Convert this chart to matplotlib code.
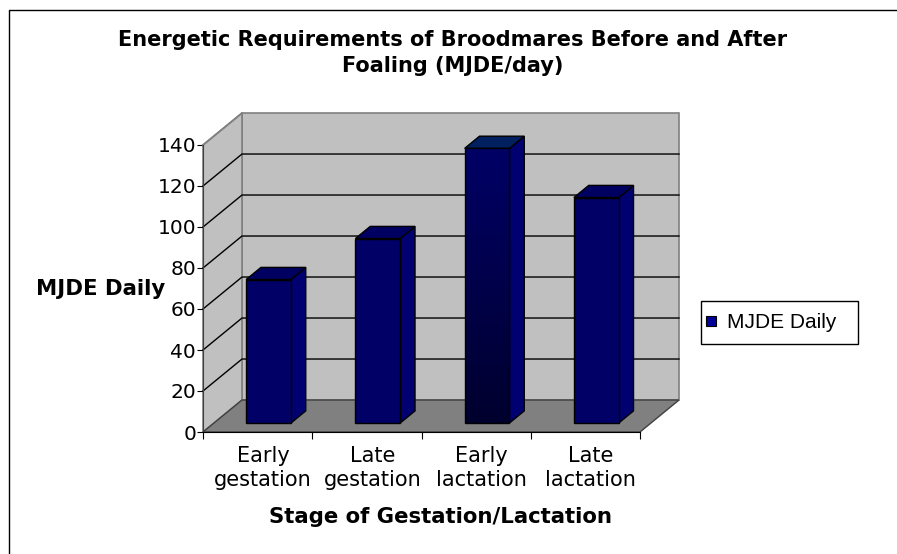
import matplotlib.pyplot as plt
from matplotlib.patches import Polygon, Rectangle
from matplotlib.lines import Line2D
from matplotlib.colors import LinearSegmentedColormap
import numpy as np

stages = ['Early\ngestation', 'Late\ngestation', 'Early\nlactation', 'Late\nlactation']
mjde = [70, 90, 134, 110]
y_ticks = [0, 20, 40, 60, 80, 100, 120, 140]
series_name = 'MJDE Daily'

W, H = 897, 554
fig = plt.figure(figsize=(W / 100, H / 100), dpi=100)
ax = fig.add_axes([203 / W, 1 - 432 / H, 437 / W, 287 / H])
n = len(stages)
ymax = y_ticks[-1]

# fake 3d: depth offset of the back wall, in data units
dx, dy = 0.357, 15.6
# bar sits between these depth fractions
f0, f1 = 0.28, 0.66
bw = 0.41

wall = '#c0c0c0'
floor = '#808080'
edge = '#808080'

# back wall, left wall, floor
ax.add_patch(Polygon([(dx, dy), (n + dx, dy), (n + dx, ymax + dy), (dx, ymax + dy)],
                     closed=True, fc=wall, ec=edge, lw=1.2, clip_on=False, zorder=1))
ax.add_patch(Polygon([(0, 0), (dx, dy), (dx, ymax + dy), (0, ymax)],
                     closed=True, fc=wall, ec=edge, lw=1.2, clip_on=False, zorder=1))
for v in y_ticks[1:-1]:
    ax.plot([0, dx, n + dx], [v, v + dy, v + dy], color='black', lw=1, clip_on=False, zorder=2)
ax.plot([0, dx], [ymax, ymax + dy], color=edge, lw=1.2, clip_on=False, zorder=2)
ax.add_patch(Polygon([(0, 0), (n, 0), (n + dx, dy), (dx, dy)],
                     closed=True, fc=floor, ec='#404040', lw=1, clip_on=False, zorder=3))

front = '#000066'
side = '#000070'
top = '#000060'
grad = LinearSegmentedColormap.from_list('g', ['#00002e', '#000066'])

for i, v in enumerate(mjde):
    x0 = i + 0.5 - bw / 2 + f0 * dx
    x1 = x0 + bw
    b = f0 * dy
    ddx = (f1 - f0) * dx
    ddy = (f1 - f0) * dy
    ax.add_patch(Polygon([(x1, b), (x1 + ddx, b + ddy), (x1 + ddx, b + ddy + v), (x1, b + v)],
                         closed=True, fc=side, ec='black', lw=1, clip_on=False, zorder=5))
    ax.add_patch(Polygon([(x0, b + v), (x1, b + v), (x1 + ddx, b + v + ddy), (x0 + ddx, b + v + ddy)],
                         closed=True, fc='#002060' if i == 2 else top, ec='black', lw=1,
                         clip_on=False, zorder=5))
    if i == 2:
        # the third bar is filled with a dark gradient
        g = np.linspace(0, 1, 256).reshape(-1, 1)
        ax.imshow(g, extent=(x0, x1, b, b + v), origin='lower', aspect='auto',
                  cmap=grad, zorder=5.5)
        ax.add_patch(Polygon([(x0, b), (x1, b), (x1, b + v), (x0, b + v)],
                             closed=True, fill=False, ec='black', lw=1, clip_on=False, zorder=6))
    else:
        ax.add_patch(Polygon([(x0, b), (x1, b), (x1, b + v), (x0, b + v)],
                             closed=True, fc=front, ec='black', lw=1, clip_on=False, zorder=6))

ax.set_xlim(0, n)
ax.set_ylim(0, ymax)
ax.patch.set_visible(False)
for s in ['top', 'right']:
    ax.spines[s].set_visible(False)
ax.spines['left'].set_color('#404040')
ax.spines['bottom'].set_color('black')
ax.spines['left'].set_zorder(4)
ax.spines['bottom'].set_zorder(4)

ax.set_yticks(y_ticks)
ax.tick_params(axis='y', length=4, pad=1, labelsize=14.5, colors='black')
ax.set_xticks(range(n + 1))
ax.set_xticklabels([])
ax.set_xticks(np.arange(n) + 0.55, minor=True)
ax.set_xticklabels(stages, minor=True, fontsize=15, linespacing=1.25)
ax.tick_params(axis='x', which='major', length=5)
ax.tick_params(axis='x', which='minor', length=0, pad=10)

fig.text(453 / W, 1 - 30 / H, 'Energetic Requirements of Broodmares Before and After\nFoaling (MJDE/day)',
         ha='center', va='top', fontsize=15, fontweight='bold', linespacing=1.35)
fig.text(440 / W, 1 - 517 / H, 'Stage of Gestation/Lactation', ha='center', va='center',
         fontsize=15.3, fontweight='bold')
fig.text(101 / W, 1 - 289 / H, 'MJDE Daily', ha='center', va='center',
         fontsize=15.3, fontweight='bold')

# legend box
fig.add_artist(Rectangle((701 / W, 1 - 344 / H), 157 / W, 43 / H, transform=fig.transFigure,
                         fc='white', ec='black', lw=1, zorder=8))
handle = Line2D([], [], marker='s', ls='none', markersize=7, mfc='#000099', mec='black',
                mew=0.8, label=series_name)
leg = fig.legend(handles=[handle], loc='center left', bbox_to_anchor=(705 / W, 1 - 323 / H),
                 bbox_transform=fig.transFigure, frameon=False, handlelength=0.6,
                 handletextpad=0.45, borderpad=0, borderaxespad=0,
                 prop={'family': 'Liberation Sans', 'size': 15})
leg.set_zorder(9)

# outer chart border (left and top edges visible)
fig.add_artist(Line2D([9 / W, 9 / W, 1], [0, 1 - 10 / H, 1 - 10 / H],
                      transform=fig.transFigure, color='black', lw=1))

fig.savefig('out.png', dpi=100)
